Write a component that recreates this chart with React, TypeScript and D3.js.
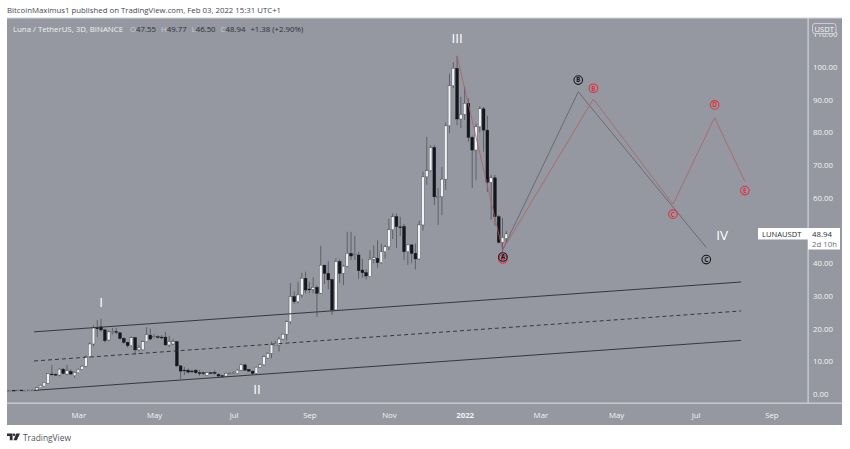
import * as d3 from 'd3';
import React, { useEffect, useRef } from 'react';

// 3D bars, oldest first
const opens = [1.0, 1.1, 1.15, 1.1, 1.2, 1.1, 1.15, 1.2, 1.2, 1.9, 2.4, 3.3, 6.1, 6, 5.8, 7.6, 6.1, 6.9, 5.6, 6.5, 7.5, 8.5, 11.4, 15.3, 20.2, 20.5, 19.6, 16.5, 18.9, 19.1, 18.7, 17, 15.8, 14.8, 17.2, 13.5, 13.5, 16, 18, 17.3, 17.5, 17.4, 17.4, 15, 15.3, 16, 8.6, 7.3, 7.3, 7, 7.3, 6.5, 6.5, 5.7, 6.5, 6.6, 6, 5.6, 5.5, 6.2, 6.4, 6.3, 7.3, 8.9, 7.5, 7, 6.3, 8.2, 8.9, 11, 12.4, 15, 15, 16.8, 18.3, 22.1, 29.8, 28.2, 30.3, 35.4, 32.1, 32, 32.6, 30.8, 39.4, 36.9, 35, 25.7, 40.5, 36.9, 39.1, 43, 42.4, 42.5, 37.9, 37.1, 35.9, 41.2, 41.5, 40.2, 43.5, 45, 50.2, 54.2, 51.1, 51.2, 43.5, 45.6, 43, 41.3, 51.7, 66.4, 68.3, 75.4, 60.3, 60.3, 65.7, 82, 94.3, 99.6, 84.1, 85.5, 88.9, 78.5, 74.6, 81.7, 87.2, 80.7, 64.7, 66.1, 54.2, 46.4, 47.55];
const highs = [1.2, 1.3, 1.3, 1.3, 1.3, 1.3, 1.3, 1.4, 2.1, 2.9, 3.6, 6.4, 8.9, 6.4, 7.9, 7.9, 8.9, 7.6, 6.9, 7.8, 8.9, 11.8, 15.8, 21, 22.6, 23, 20, 19.5, 20.2, 20.2, 19, 17.3, 16, 17.6, 17.5, 15, 16.4, 20.4, 20, 18.3, 18, 18, 19, 17.8, 16.8, 16.2, 8.8, 8.3, 7.8, 7.5, 7.6, 7.3, 6.8, 6.7, 6.7, 7.2, 6.3, 5.8, 6.5, 6.6, 7, 7.6, 9.2, 9.2, 7.7, 7.1, 8.4, 9.2, 11.8, 12.8, 16, 16.2, 17.5, 18.6, 22.5, 33.9, 31.4, 34.3, 37, 37.4, 34.3, 35.7, 33.2, 45.3, 39.5, 40.6, 35.2, 41.5, 41.2, 39.5, 49.6, 49.6, 48.4, 43.5, 41.3, 38.2, 44, 45.4, 47, 46, 45.6, 53.6, 55.2, 55.2, 54.2, 52, 45.8, 45.7, 46, 53, 68, 78.6, 76.1, 76.1, 63, 69.5, 83, 98, 101.5, 103.4, 90.9, 93.9, 90.4, 79, 82.8, 88, 87.8, 85.1, 67, 67, 54.8, 53.8, 49.77];
const lows = [0.9, 1.0, 1.0, 1.0, 1.0, 1.0, 1.0, 1.0, 1.1, 1.8, 2.3, 3.2, 5.7, 5.6, 5.4, 6, 5.8, 5.9, 5, 6.3, 7.3, 8.2, 11.1, 14.6, 17.4, 19, 15.8, 16.2, 18.2, 18.3, 16.6, 15.4, 14.2, 14.5, 12, 13, 13.2, 15.8, 16.5, 17, 17, 16.8, 14.8, 14.3, 15, 8.3, 4.6, 5.8, 6.2, 6.5, 6.1, 5.6, 5.8, 5.6, 6.1, 6, 5, 5, 5.3, 5.9, 6.2, 6.2, 7.1, 7.1, 6.8, 6, 5.9, 8, 8.6, 10.8, 10.9, 14.8, 13, 16.5, 16.4, 21.5, 27.5, 27.7, 29.5, 30.8, 30.8, 30.8, 23.6, 30.6, 33.6, 32, 24.2, 25.4, 33.9, 33.3, 38.7, 41, 41, 35.2, 35.5, 35, 35.9, 40, 38.6, 39.8, 41.4, 44, 47.4, 44.7, 48.3, 41, 39.5, 40, 38.1, 41, 50, 64, 68, 57.8, 51.7, 54.7, 62.4, 79.8, 93.6, 82.2, 81.3, 83.8, 77.2, 63, 65.4, 80, 74.1, 61.8, 53.2, 51.4, 46, 43.5, 46.5];
const closes = [1.1, 1.15, 1.1, 1.2, 1.1, 1.15, 1.2, 1.2, 1.9, 2.7, 3.5, 6.2, 5.9, 5.8, 7.6, 6.3, 7.1, 6.1, 6.6, 7.5, 8.5, 11.4, 15.3, 20.2, 20, 19.6, 16.3, 19, 19.1, 18.9, 17, 15.8, 14.8, 17.2, 13.5, 14.2, 16, 18.2, 16.8, 17.5, 17.3, 17.2, 15, 16, 16, 8.6, 7, 7.2, 6.7, 6.9, 6.5, 6.4, 6.3, 6.5, 6.4, 6.3, 5.5, 5.4, 6.3, 6.4, 6.6, 7.3, 8.9, 7.3, 7, 6.3, 8.2, 8.9, 11.4, 12.4, 15, 15.5, 16.8, 18.3, 22.1, 29.8, 28.2, 30.3, 35.4, 31.8, 31.9, 32.6, 30.8, 39.4, 36.9, 34.9, 25.7, 40.5, 36.9, 39.1, 43, 42.2, 42.6, 37.7, 37.1, 36.1, 41.2, 41.7, 40.2, 43.5, 45, 50.2, 54.2, 51.2, 51, 43.5, 45.6, 43, 41.3, 51.7, 66.4, 68.3, 75.4, 60.3, 60.4, 65.7, 82, 94.3, 99.6, 84.1, 85.5, 88.9, 78.5, 74.6, 81.7, 87.2, 80.7, 64.7, 66.1, 54.2, 46.4, 47.9, 48.94];

const priceTicks = [0, 10, 20, 30, 40, 50, 60, 70, 80, 90, 100, 110];
// time axis: bar index of each label (TradingView spaces by bar, not by date)
const monthBars = [19, 39, 60, 80, 101, 121, 141, 161, 182, 202];
const monthLabels = ['Mar', 'May', 'Jul', 'Sep', 'Nov', '2022', 'Mar', 'May', 'Jul', 'Sep'];

// channel drawn on the chart, [bar, price]
const channelTop: [number, number][] = [[7.3, 19], [194, 34.25]];
const channelMid: [number, number][] = [[7.3, 10.1], [194, 25.4]];
const channelLow: [number, number][] = [[7.3, 1.1], [194, 16.4]];
// wave counts
const blackWave: [number, number][] = [[131, 44], [151, 92.4], [184.8, 44.8]];
const redWave: [number, number][] = [[119, 103.4], [131, 44], [155, 90.2], [176, 58], [187, 84.5], [195, 65]];
const blackLabels: [string, number, number][] = [['A', 131.1, 41.9], ['B', 151, 96], ['C', 184.8, 41.1]];
const redLabels: [string, number, number][] = [['A', 131.1, 41.3], ['B', 155, 93.5], ['C', 176, 55], ['D', 187, 88.4], ['E', 195, 62.2]];
const waveNumbers: [string, number, number][] = [['I', 25, 28], ['II', 66.2, 1.6], ['III', 119, 108.8], ['IV', 189, 48.5]];

const BG = '#9598a1';
const BORDER = '#d1d4dc';
const WIDTH = 850;
const HEIGHT = 449;
const FONT = '"Open Sans", "Noto Sans", sans-serif';

const App: React.FC = () => {
    const svgRef = useRef<SVGSVGElement | null>(null);

    useEffect(() => {
        if (!svgRef.current) return;
        const svg = d3.select(svgRef.current);
        svg.selectAll('*').remove();

        const x = d3.scaleLinear().domain([0, 132]).range([6.4, 506.3]);
        const y = d3.scaleLinear().domain([0, 100]).range([394, 67]);

        svg.append('rect').attr('width', WIDTH).attr('height', HEIGHT).attr('fill', '#fff');
        svg.append('rect').attr('x', 7).attr('y', 18).attr('width', 835).attr('height', 407).attr('fill', BG);

        const defs = svg.append('defs');
        defs.append('clipPath').attr('id', 'plot').append('rect').attr('x', 7).attr('y', 18).attr('width', 801).attr('height', 385);

        const plot = svg.append('g').attr('clip-path', 'url(#plot)');

        // candles
        const candles = plot.append('g');
        d3.range(opens.length).forEach((i) => {
            const up = closes[i] >= opens[i];
            candles
                .append('line')
                .attr('x1', x(i))
                .attr('x2', x(i))
                .attr('y1', y(highs[i]))
                .attr('y2', y(lows[i]))
                .attr('stroke', '#50535b')
                .attr('stroke-width', 0.8);
            const top = y(Math.max(opens[i], closes[i]));
            const bottom = y(Math.min(opens[i], closes[i]));
            candles
                .append('rect')
                .attr('x', x(i) - 1.4)
                .attr('y', top)
                .attr('width', 2.8)
                .attr('height', Math.max(bottom - top, 0.8))
                .attr('fill', up ? '#f2f2f2' : '#14161c')
                .attr('stroke', up ? '#3d4048' : '#14161c')
                .attr('stroke-width', 0.4);
        });

        const line = d3
            .line<[number, number]>()
            .x((d) => x(d[0]))
            .y((d) => y(d[1]));

        const addPath = (pts: [number, number][], color: string, w: number, dash?: string) =>
            plot
                .append('path')
                .attr('d', line(pts))
                .attr('fill', 'none')
                .attr('stroke', color)
                .attr('stroke-width', w)
                .attr('stroke-dasharray', dash ?? null);

        addPath(channelTop, '#2a2c35', 0.9);
        addPath(channelMid, '#2a2c35', 0.9, '4 3');
        addPath(channelLow, '#2a2c35', 0.9);
        addPath(blackWave, '#55575f', 0.7);
        addPath(redWave, '#ad5f66', 0.8);

        const addCircles = (labels: [string, number, number][], color: string) => {
            labels.forEach(([t, bar, price]) => {
                plot.append('circle')
                    .attr('cx', x(bar))
                    .attr('cy', y(price))
                    .attr('r', 4.3)
                    .attr('fill', 'none')
                    .attr('stroke', color)
                    .attr('stroke-width', 1.1);
                plot.append('text')
                    .attr('x', x(bar))
                    .attr('y', y(price) + 2.4)
                    .attr('text-anchor', 'middle')
                    .attr('font-size', 6.5)
                    .attr('font-weight', 700)
                    .attr('font-family', FONT)
                    .attr('fill', color)
                    .text(t);
            });
        };
        addCircles(redLabels, '#e0313f');
        addCircles(blackLabels, '#17181d');

        waveNumbers.forEach(([t, bar, price]) => {
            plot.append('text')
                .attr('x', x(bar))
                .attr('y', y(price))
                .attr('text-anchor', 'middle')
                .attr('dominant-baseline', 'central')
                .attr('font-size', 13.5)
                .attr('font-family', FONT)
                .attr('fill', '#ffffff')
                .text(t);
        });

        // axes
        const yAxis = svg
            .append('g')
            .attr('transform', 'translate(808,0)')
            .call(
                d3
                    .axisRight(y)
                    .tickValues(priceTicks)
                    .tickSize(0)
                    .tickPadding(5)
                    .tickFormat((d) => d3.format('.2f')(d as number)),
            );
        const xAxis = svg
            .append('g')
            .attr('transform', 'translate(0,403)')
            .call(
                d3
                    .axisBottom(x)
                    .tickValues(monthBars)
                    .tickSize(0)
                    .tickPadding(9)
                    .tickFormat((_, i) => monthLabels[i]),
            );
        [yAxis, xAxis].forEach((a) => {
            a.selectAll('text')
                .attr('font-size', 7.8)
                .attr('font-family', FONT)
                .attr('fill', '#f4f4f4');
            a.select('.domain').remove();
        });
        xAxis.selectAll('text').filter((_, i) => monthLabels[i] === '2022').attr('font-weight', 700);

        // pane borders
        svg.append('rect').attr('x', 7).attr('y', 17.5).attr('width', 835).attr('height', 1).attr('fill', BORDER);
        svg.append('rect').attr('x', 807.5).attr('y', 18).attr('width', 1.2).attr('height', 385).attr('fill', BORDER);
        svg.append('rect').attr('x', 7).attr('y', 402.6).attr('width', 835).attr('height', 1.2).attr('fill', BORDER);

        // currency badge sits over the 110 label
        svg.append('rect')
            .attr('x', 812.5).attr('y', 23.5).attr('width', 23.5).attr('height', 10).attr('rx', 2.5)
            .attr('fill', BG).attr('stroke', '#d8dae0').attr('stroke-width', 0.8);
        svg.append('text')
            .attr('x', 824.2).attr('y', 31.5).attr('text-anchor', 'middle')
            .attr('font-size', 7.6).attr('font-family', FONT).attr('fill', '#f5f5f5')
            .text('USDT');

        // last price tag
        svg.append('rect').attr('x', 758).attr('y', 228).attr('width', 50).attr('height', 11.5).attr('fill', '#fff');
        svg.append('rect').attr('x', 808).attr('y', 228).attr('width', 32).attr('height', 21.5).attr('fill', '#fff');
        svg.append('text')
            .attr('x', 762).attr('y', 236.5).attr('font-size', 7.6).attr('font-family', FONT).attr('fill', '#2a2e39')
            .text('LUNAUSDT');
        svg.append('text')
            .attr('x', 812).attr('y', 236.5).attr('font-size', 7.8).attr('font-family', FONT).attr('fill', '#2a2e39')
            .text('48.94');
        svg.append('text')
            .attr('x', 812).attr('y', 246.5).attr('font-size', 7.8).attr('font-family', FONT).attr('fill', '#6a6d78')
            .text('2d 10h');

        // header
        svg.append('text')
            .attr('x', 7).attr('y', 13).attr('font-size', 7.8).attr('font-family', FONT).attr('fill', '#434651')
            .text('BitcoinMaximus1 published on TradingView.com, Feb 03, 2022 15:31 UTC+1');
        const legend = svg.append('text')
            .attr('x', 13).attr('y', 32).attr('font-size', 7.8).attr('font-family', FONT).attr('fill', '#f0f0f0');
        legend.append('tspan').text('Luna / TetherUS, 3D, BINANCE  ');
        ['O47.55', 'H49.77', 'L46.50', 'C48.94'].forEach((v) => {
            legend.append('tspan').attr('dx', 5).attr('fill', '#c8cad0').text(v[0]);
            legend.append('tspan').attr('fill', '#2c2f38').text(v.slice(1));
        });
        legend.append('tspan').attr('dx', 5).attr('fill', '#2c2f38').text('+1.38 (+2.90%)');

        // footer logo
        const logo = svg.append('g').attr('transform', 'translate(7,433.5) scale(0.93,0.85)').attr('fill', '#2a2e39');
        logo.append('path').attr('d', 'M0 0H6V8H3V3H0Z');
        logo.append('circle').attr('cx', 7.6).attr('cy', 1.5).attr('r', 1.4);
        logo.append('path').attr('d', 'M10 0H14L10.5 8H7Z');
        svg.append('text')
            .attr('x', 23).attr('y', 440.5).attr('font-size', 8.4).attr('font-family', FONT).attr('fill', '#50535e')
            .text('TradingView');
    }, []);

    return (
        <svg
            ref={svgRef}
            width={WIDTH}
            height={HEIGHT}
            style={{ position: 'absolute', left: 0, top: 0 }}
        />
    );
};

export default App;
